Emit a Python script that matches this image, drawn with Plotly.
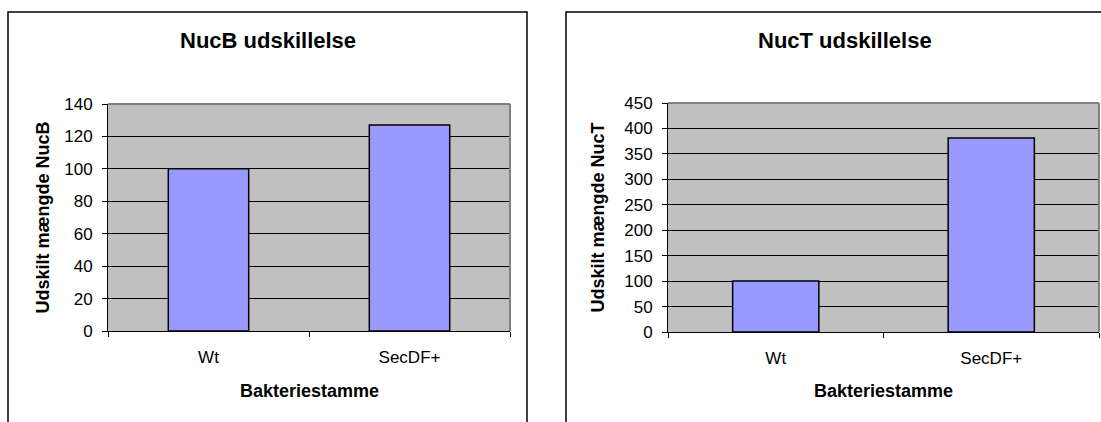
import plotly.graph_objects as go

W, H = 1101, 422

strains = ["Wt", "SecDF+"]
nucb_values = [100, 127]
nuct_values = [100, 381]

nucb_ticks = [0, 20, 40, 60, 80, 100, 120, 140]
nuct_ticks = [0, 50, 100, 150, 200, 250, 300, 350, 400, 450]

BAR = "#9999FF"
BG = "#C0C0C0"
FONT = "Arial, Liberation Sans, sans-serif"


def px_x(p):
    return p / W


def px_y(p):
    return 1 - p / H


fig = go.Figure()
fig.add_trace(go.Bar(x=strains, y=nucb_values, width=0.4, marker=dict(color=BAR, line=dict(color="black", width=1.5)),
                     xaxis="x", yaxis="y", hoverinfo="skip"))
fig.add_trace(go.Bar(x=strains, y=nuct_values, width=0.4, marker=dict(color=BAR, line=dict(color="black", width=1.5)),
                     xaxis="x2", yaxis="y2", hoverinfo="skip"))

xcommon = dict(type="category", showgrid=False, showline=True, linecolor="black", linewidth=1,
               ticks="outside", tickson="boundaries", ticklen=5, tickcolor="black", automargin=False,
               tickfont=dict(family=FONT, size=17, color="black"), ticklabelstandoff=11, fixedrange=True)
ycommon = dict(showgrid=True, gridcolor="black", gridwidth=1, zeroline=False, showline=True,
               linecolor="black", linewidth=1, ticks="outside", ticklen=5, tickcolor="black", automargin=False,
               tickfont=dict(family=FONT, size=17, color="black"), ticklabelstandoff=6, fixedrange=True)

# panel geometry in pixels
L = dict(x0=108, x1=510, ytop=104, ybot=331, box=(8, 527), tcx=268, ytx=43)
R = dict(x0=668, x1=1099, ytop=103, ybot=332, box=(566, 1124), tcx=845, ytx=598)

fig.update_layout(
    template="none",
    width=W, height=H, autosize=False, margin=dict(l=0, r=0, t=0, b=0, pad=0),
    paper_bgcolor="white", plot_bgcolor=BG, showlegend=False, bargap=0.6,
    xaxis=dict(domain=[px_x(L["x0"]), px_x(L["x1"])], anchor="y", **xcommon),
    yaxis=dict(domain=[px_y(L["ybot"]), px_y(L["ytop"])], anchor="x", range=[0, 140],
               tickvals=nucb_ticks, **ycommon),
    xaxis2=dict(domain=[px_x(R["x0"]), px_x(R["x1"])], anchor="y2", **xcommon),
    yaxis2=dict(domain=[px_y(R["ybot"]), px_y(R["ytop"])], anchor="x2", range=[0, 450],
                tickvals=nuct_ticks, **ycommon),
)

shapes = []
for P, xd, yd in ((L, "x domain", "y domain"), (R, "x2 domain", "y2 domain")):
    # outer chart frame
    shapes.append(dict(type="rect", xref="paper", yref="paper",
                       x0=px_x(P["box"][0]), x1=px_x(P["box"][1]), y0=-0.1, y1=px_y(12),
                       line=dict(color="black", width=1.5), layer="above"))
    # grey top/right edge of the plot area
    shapes.append(dict(type="line", xref=xd, yref=yd, x0=0, x1=1, y0=1, y1=1,
                       line=dict(color="#808080", width=2), layer="above"))
    shapes.append(dict(type="line", xref=xd, yref=yd, x0=1, x1=1, y0=0, y1=1,
                       line=dict(color="#808080", width=2), layer="above"))
fig.update_layout(shapes=shapes)

annotations = []
for P, title, ytitle in ((L, "NucB udskillelse", "Udskilt mængde NucB"),
                         (R, "NucT udskillelse", "Udskilt mængde NucT")):
    annotations.append(dict(text=f"<b>{title}</b>", xref="paper", yref="paper",
                            x=px_x(P["tcx"]), y=px_y(41), showarrow=False,
                            xanchor="center", yanchor="middle",
                            font=dict(family=FONT, size=22, color="black")))
    annotations.append(dict(text="<b>Bakteriestamme</b>", xref="paper", yref="paper",
                            x=px_x((P["x0"] + P["x1"]) / 2), y=px_y(391), showarrow=False,
                            xanchor="center", yanchor="middle",
                            font=dict(family=FONT, size=18, color="black")))
    annotations.append(dict(text=f"<b>{ytitle}</b>", xref="paper", yref="paper",
                            x=px_x(P["ytx"]), y=px_y((P["ytop"] + P["ybot"]) / 2), showarrow=False,
                            textangle=-90, xanchor="center", yanchor="middle",
                            font=dict(family=FONT, size=18, color="black")))
fig.update_layout(annotations=annotations)

fig.write_html("out.html")
